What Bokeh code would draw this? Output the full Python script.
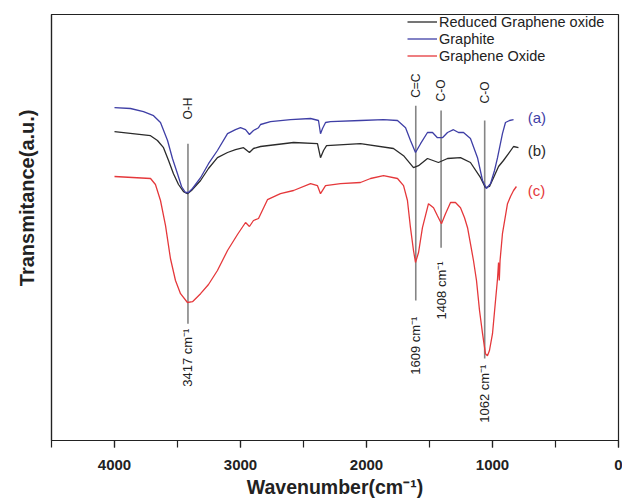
import math
from bokeh.plotting import figure
from bokeh.models import Range1d, SingleIntervalTicker, FixedTicker, Title, Legend, LegendItem
from bokeh.core.properties import value
from bokeh.embed import file_html
from bokeh.resources import INLINE

# ---- data (wavenumber in cm^-1, transmittance in arbitrary units) ----
graphite_wn = [4000, 3873, 3770, 3690, 3635, 3579, 3540, 3500, 3468, 3437, 3413, 3381, 3317, 3254, 3183,
               3103, 3040, 3000, 2960, 2929, 2897, 2857, 2841, 2762, 2603, 2444, 2381, 2365, 2349, 2325,
               2286, 2048, 1865, 1754, 1690, 1651, 1611, 1571, 1516, 1476, 1437, 1397, 1357, 1310, 1270,
               1230, 1175, 1119, 1079, 1048, 1016, 984, 960, 921, 897, 865, 833]
graphite_t = [83.2, 83.0, 82.2, 81.2, 79.5, 75.0, 70.5, 66.7, 63.5, 62.0, 62.0, 63.0, 65.7, 69.2, 72.5,
              76.7, 77.7, 78.2, 77.7, 76.5, 77.5, 78.2, 79.0, 79.7, 80.2, 80.5, 80.0, 76.7, 78.0, 79.5,
              79.7, 80.0, 80.2, 80.0, 78.2, 75.0, 72.0, 74.2, 77.0, 77.0, 75.7, 75.7, 77.0, 77.7, 77.0,
              77.0, 75.5, 70.7, 65.0, 63.0, 64.2, 67.5, 70.7, 76.7, 79.5, 80.0, 80.2]

rgo_wn = [4000, 3714, 3659, 3611, 3571, 3532, 3492, 3452, 3421, 3389, 3317, 3254, 3183, 3103, 3040,
          2976, 2929, 2897, 2841, 2579, 2389, 2365, 2341, 2317, 2048, 1786, 1706, 1627, 1587, 1516,
          1429, 1357, 1254, 1175, 1095, 1056, 1024, 992, 952, 913, 873, 833, 794]
rgo_t = [77.2, 76.2, 75.0, 73.2, 70.0, 66.7, 64.0, 62.2, 61.7, 62.5, 65.0, 68.0, 70.7, 72.0, 72.7,
         73.2, 72.0, 73.0, 73.5, 74.5, 74.2, 70.7, 72.5, 73.7, 74.2, 73.0, 71.2, 68.2, 68.7, 70.5,
         69.5, 70.5, 70.7, 69.5, 65.7, 63.2, 63.5, 65.7, 68.5, 70.0, 71.7, 73.5, 73.2]

go_wn = [4000, 3714, 3675, 3635, 3595, 3556, 3516, 3476, 3421, 3381, 3317, 3254, 3183, 3103, 3024,
         2960, 2929, 2897, 2857, 2786, 2683, 2579, 2444, 2389, 2365, 2325, 2206, 2048, 1968, 1865,
         1754, 1706, 1675, 1651, 1627, 1611, 1587, 1556, 1508, 1468, 1437, 1405, 1373, 1333, 1294,
         1254, 1222, 1198, 1175, 1151, 1127, 1103, 1079, 1056, 1040, 1024, 1000, 976, 960, 952,
         946, 940, 930, 921, 897, 881, 857, 833, 810]
go_t = [66.0, 65.5, 64.0, 60.0, 53.7, 45.5, 40.0, 36.7, 34.5, 34.7, 36.7, 39.0, 42.5, 47.5, 51.5,
        54.5, 53.5, 55.0, 55.5, 60.2, 61.7, 62.5, 64.2, 63.7, 61.7, 63.7, 64.2, 64.5, 65.5, 66.2,
        65.5, 63.7, 60.0, 53.2, 47.5, 44.5, 47.0, 53.2, 59.2, 58.2, 56.2, 54.2, 56.7, 59.5, 59.5,
        58.2, 55.7, 53.2, 49.2, 45.0, 40.0, 32.5, 26.7, 21.7, 21.2, 22.5, 26.7, 35.0, 40.5, 44.5,
        40.0, 45.0, 48.5, 51.7, 56.2, 59.2, 61.0, 62.5, 63.5]

series_names = ["Reduced Graphene oxide", "Graphite", "Graphene Oxide"]
series_tags = ["(b)", "(a)", "(c)"]
series_colors = ["#2b2b2b", "#3f3fa6", "#e5383b"]

peak_wn = [3417, 1609, 1408, 1062]
bond_labels = ["O-H", "C=C", "C-O", "C-O"]
peak_labels = ["3417 cm\u207b\u00b9", "1609 cm\u207b\u00b9", "1408 cm\u207b\u00b9", "1062 cm\u207b\u00b9"]

# ---- layout helpers (annotation placement, not data) ----
line_top = [74.2, 83.7, 82.5, 80.0]
line_bottom = [29.2, 35.0, 48.2, 20.5]
bond_y = [83.0, 88.7, 87.5, 87.0]
peak_label_y = [20.7, 23.7, 37.5, 11.7]
tag_x = 720
tag_y = [72.5, 80.7, 62.5]

FONT = "Liberation Sans"

p = figure(width=622, height=502, output_backend="svg", toolbar_location=None,
           x_range=Range1d(4500, 0), y_range=Range1d(0, 106.5),
           min_border_left=50, min_border_right=4, min_border_top=14, min_border_bottom=62)
p.background_fill_color = "white"
p.border_fill_color = "white"
p.outline_line_color = "#222222"
p.outline_line_width = 1.2
p.xgrid.visible = False
p.ygrid.visible = False

# x axis
p.xaxis.ticker = SingleIntervalTicker(interval=1000, num_minor_ticks=2)
p.xaxis.major_label_text_font = FONT
p.xaxis.major_label_text_font_style = "bold"
p.xaxis.major_label_text_font_size = "15px"
p.xaxis.major_label_text_color = "#222222"
p.xaxis.major_tick_out = 7
p.xaxis.major_tick_in = 0
p.xaxis.minor_tick_out = 7
p.xaxis.minor_tick_in = 0
p.xaxis.major_tick_line_width = 1.2
p.xaxis.minor_tick_line_width = 1.2
p.xaxis.major_label_standoff = 12
p.xaxis.axis_line_color = "#222222"
p.xaxis.axis_line_width = 1.2
p.xaxis.major_tick_line_color = "#222222"
p.xaxis.minor_tick_line_color = "#222222"
p.xaxis.axis_label = "Wavenumber(cm\u207b\u00b9)"
p.xaxis.axis_label_text_font = FONT
p.xaxis.axis_label_text_font_style = "bold"
p.xaxis.axis_label_text_font_size = "19.5px"
p.xaxis.axis_label_text_color = "#222222"
p.xaxis.axis_label_standoff = 3

# y axis: line only
p.yaxis.ticker = FixedTicker(ticks=[])
p.yaxis.major_label_text_font_size = "0px"
p.yaxis.major_tick_line_color = None
p.yaxis.minor_tick_line_color = None
p.yaxis.axis_line_color = "#222222"
p.yaxis.axis_line_width = 1.2

ytitle = Title(text="Transmitance(a.u.)", align="right", offset=95,
               text_font=FONT, text_font_style="bold", text_font_size="20px",
               text_color="#222222", standoff=27)
p.add_layout(ytitle, "left")

# peak marker lines
p.segment(x0=peak_wn, y0=line_top, x1=peak_wn, y1=line_bottom, line_color="#858585", line_width=1.6)

# curves
r_rgo = p.line(rgo_wn, rgo_t, line_color=series_colors[0], line_width=1.3)
r_gr = p.line(graphite_wn, graphite_t, line_color=series_colors[1], line_width=1.3)
r_go = p.line(go_wn, go_t, line_color=series_colors[2], line_width=1.3)

# bond labels and peak labels (rotated)
p.text(x=peak_wn, y=bond_y, text=bond_labels, angle=math.pi / 2, text_align="center",
       text_baseline="middle", text_font=value(FONT), text_font_size="12px", text_color="#222222")
p.text(x=peak_wn, y=peak_label_y, text=peak_labels, angle=math.pi / 2, text_align="center",
       text_baseline="middle", text_font=value(FONT), text_font_size="13px", text_color="#222222")

# series tags
p.text(x=[tag_x] * 3, y=tag_y, text=series_tags, text_align="left", text_baseline="middle",
       text_font=value(FONT), text_font_size="15px", text_color=series_colors)

legend = Legend(items=[LegendItem(label=series_names[0], renderers=[r_rgo]),
                       LegendItem(label=series_names[1], renderers=[r_gr]),
                       LegendItem(label=series_names[2], renderers=[r_go])],
                location=(356, 376), orientation="vertical")
legend.label_text_font = FONT
legend.label_text_font_size = "14.5px"
legend.label_text_color = "#222222"
legend.label_height = 17
legend.glyph_height = 17
legend.glyph_width = 30
legend.label_standoff = 2
legend.spacing = 0
legend.padding = 0
legend.margin = 0
legend.border_line_alpha = 0
legend.background_fill_alpha = 0
p.add_layout(legend)

open("out.html", "w").write(file_html(p, INLINE))
